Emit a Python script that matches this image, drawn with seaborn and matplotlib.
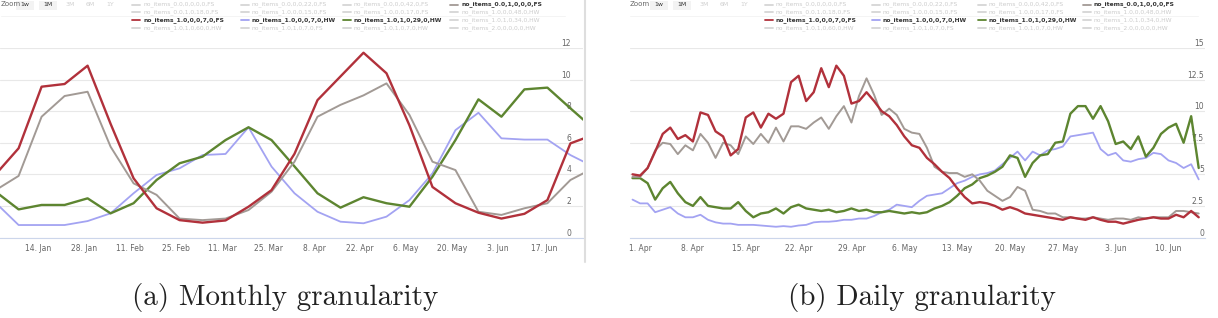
import pandas as pd
import matplotlib
matplotlib.use('Agg')
import matplotlib.pyplot as plt
from matplotlib.lines import Line2D
from matplotlib.patches import Rectangle
import seaborn as sns

# series shown in both panels
red_name = 'no_items_1.0,0,0,7,0,FS'
blue_name = 'no_items_1.0,0,0,7,0,HW'
green_name = 'no_items_1.0,1,0,29,0,HW'
gray_name = 'no_items_0.0,1,0,0,0,FS'

# legend grid (4 rows x 4 cols), hidden series shown faded
legend_labels = [
    ['no_items_0.0,0,0,0,0,FS', 'no_items_0.0,0,0,22,0,FS', 'no_items_0.0,0,0,42,0,FS', gray_name],
    ['no_items_0.0,1,0,18,0,FS', 'no_items_1.0,0,0,15,0,FS', 'no_items_1.0,0,0,17,0,FS', 'no_items_1.0,0,0,48,0,HW'],
    [red_name, blue_name, green_name, 'no_items_1.0,1,0,34,0,HW'],
    ['no_items_1.0,1,0,60,0,HW', 'no_items_1.0,1,0,7,0,FS', 'no_items_1.0,1,0,7,0,HW', 'no_items_2.0,0,0,0,0,HW'],
]
range_buttons = ['1w', '1M', '3M', '6M', '1Y']

# (a) monthly granularity, sampled weekly
monthly_dates = pd.date_range('2018-01-01', '2018-07-02', freq='7D')
monthly_red = [4.0, 5.65, 9.55, 9.72, 10.88, 7.2, 3.75, 1.85, 1.1, 0.94, 1.08, 1.95, 3.0,
               5.3, 8.7, 10.2, 11.7, 10.4, 7.1, 3.2, 2.17, 1.57, 1.2, 1.5, 2.37, 5.96, 6.5]
monthly_gray = [3.0, 3.9, 7.65, 8.96, 9.23, 5.75, 3.43, 2.7, 1.2, 1.1, 1.2, 1.74, 2.9,
                4.8, 7.65, 8.4, 9.0, 9.76, 7.76, 4.8, 4.27, 1.63, 1.43, 1.85, 2.17, 3.64, 4.4]
monthly_green = [2.9, 1.78, 2.06, 2.06, 2.48, 1.53, 2.17, 3.64, 4.7, 5.12, 6.17, 6.98, 6.17,
                 4.5, 2.8, 1.89, 2.55, 2.17, 1.95, 3.85, 6.17, 8.75, 7.65, 9.38, 9.49, 8.18, 6.9]
monthly_blue = [2.2, 0.79, 0.79, 0.79, 1.04, 1.53, 2.8, 3.96, 4.38, 5.22, 5.29, 6.98, 4.49,
                2.8, 1.63, 1.0, 0.9, 1.32, 2.37, 4.06, 6.8, 7.9, 6.28, 6.2, 6.2, 5.22, 4.49]
monthly_ticks = pd.date_range('2018-01-14', '2018-06-17', freq='14D')
monthly_yticks = [0, 2, 4, 6, 8, 10, 12]

# (b) daily granularity
daily_dates = pd.date_range('2018-03-31', '2018-06-14', freq='D')
daily_red = [5.0, 4.9, 5.5, 6.8, 8.2, 8.7, 7.8, 8.1, 7.6, 9.9,
             9.7, 8.4, 8.0, 6.5, 7.0, 9.5, 9.9, 8.7, 9.8, 9.4,
             9.8, 12.3, 12.8, 10.8, 11.5, 13.4, 11.9, 13.6, 12.8, 10.6,
             10.8, 11.5, 10.8, 10.0, 9.6, 8.9, 8.0, 7.3, 7.1, 6.3,
             5.8, 5.2, 4.7, 3.9, 3.2, 2.7, 2.8, 2.7, 2.5, 2.2,
             2.4, 2.2, 1.9, 1.8, 1.7, 1.6, 1.5, 1.4, 1.6, 1.5,
             1.4, 1.6, 1.4, 1.25, 1.25, 1.1, 1.25, 1.4, 1.5, 1.6,
             1.5, 1.5, 1.8, 1.6, 2.1, 1.6]
daily_gray = [4.8, 4.8, 5.5, 6.9, 7.5, 7.4, 6.6, 7.3, 6.9, 8.2,
              7.5, 6.3, 7.5, 7.3, 6.6, 8.0, 7.4, 8.2, 7.5, 8.7,
              7.6, 8.8, 8.8, 8.6, 9.1, 9.5, 8.6, 9.6, 10.4, 9.1,
              11.2, 12.6, 11.3, 9.7, 10.2, 9.7, 8.6, 8.3, 8.2, 7.1,
              5.6, 5.2, 5.1, 5.1, 4.8, 5.0, 4.5, 3.7, 3.3, 2.9,
              3.2, 4.0, 3.7, 2.2, 2.1, 1.9, 1.9, 1.6, 1.6, 1.5,
              1.5, 1.6, 1.5, 1.4, 1.5, 1.5, 1.4, 1.6, 1.5, 1.6,
              1.6, 1.6, 2.1, 2.1, 2.0, 1.9]
daily_green = [4.7, 4.7, 4.3, 3.0, 3.9, 4.4, 3.5, 2.8, 2.5, 3.2,
               2.5, 2.4, 2.3, 2.3, 2.8, 2.1, 1.6, 1.9, 2.0, 2.3,
               1.9, 2.4, 2.6, 2.3, 2.2, 2.1, 2.2, 2.0, 2.1, 2.3,
               2.1, 2.2, 2.0, 2.0, 2.1, 2.0, 1.9, 2.0, 1.9, 2.0,
               2.3, 2.5, 2.8, 3.3, 3.9, 4.2, 4.7, 4.9, 5.2, 5.6,
               6.5, 6.3, 4.8, 5.9, 6.5, 6.6, 7.5, 7.6, 9.8, 10.4,
               10.4, 9.4, 10.4, 9.2, 7.4, 7.6, 7.0, 8.0, 6.4, 7.1,
               8.2, 8.7, 9.0, 7.5, 9.6, 5.5]
daily_blue = [3.0, 2.7, 2.7, 2.0, 2.2, 2.4, 1.9, 1.6, 1.6, 1.8,
              1.4, 1.2, 1.1, 1.1, 1.0, 1.0, 1.0, 0.95, 0.9, 0.85,
              0.9, 0.85, 0.95, 1.0, 1.2, 1.25, 1.25, 1.3, 1.4, 1.4,
              1.5, 1.5, 1.7, 2.0, 2.2, 2.6, 2.5, 2.4, 2.9, 3.3,
              3.4, 3.5, 3.9, 4.3, 4.5, 4.8, 5.0, 5.1, 5.3, 5.8,
              6.3, 6.8, 6.1, 6.8, 6.5, 6.9, 7.0, 7.2, 8.0, 8.1,
              8.2, 8.3, 7.0, 6.5, 6.7, 6.1, 6.0, 6.2, 6.3, 6.7,
              6.6, 6.1, 5.9, 5.5, 5.8, 4.6]
daily_ticks = pd.date_range('2018-04-01', '2018-06-10', freq='7D')
daily_yticks = [0, 2.5, 5, 7.5, 10, 12.5, 15]
daily_yticklabels = ['0', '2.5', '5', '7.5', '10', '12.5', '15']

colors = {red_name: '#b1313b', gray_name: '#a29a95', green_name: '#5d8530', blue_name: '#a3a3f2'}
widths = {red_name: 1.7, gray_name: 1.4, green_name: 1.7, blue_name: 1.3}
order = [blue_name, green_name, gray_name, red_name]


def long_frame(dates, series):
    parts = [pd.DataFrame({'date': dates, 'value': vals, 'series': name}) for name, vals in series.items()]
    return pd.concat(parts, ignore_index=True)


monthly_df = long_frame(monthly_dates, {red_name: monthly_red, gray_name: monthly_gray,
                                        green_name: monthly_green, blue_name: monthly_blue})
daily_df = long_frame(daily_dates, {red_name: daily_red, gray_name: daily_gray,
                                    green_name: daily_green, blue_name: daily_blue})

sns.set_style('white')
plt.rcParams['font.family'] = ['DejaVu Sans']

W, H = 1218, 318
fig = plt.figure(figsize=(W / 100, H / 100), dpi=100)


def fx(px):
    return px / W


def fy(py):
    return 1 - py / H


def panel(x0, x1, df, ticks, yticks, ylabels, ymax, xlim, label_pad):
    ax = fig.add_axes([fx(x0), fy(237.5), fx(x1 - x0), (237.5 - 48) / H])
    for name in order:
        sub = df[df['series'] == name]
        sns.lineplot(data=sub, x='date', y='value', color=colors[name], linewidth=widths[name],
                     ax=ax, legend=False)
    ax.set_xlim(xlim)
    ax.set_ylim(0, ymax)
    ax.set_xlabel('')
    ax.set_ylabel('')
    ax.set_xticks(ticks)
    ax.set_xticklabels([f'{d.day}. {d.strftime("%b")}' for d in ticks])
    ax.set_yticks(yticks)
    ax.set_yticklabels(ylabels)
    ax.yaxis.tick_right()
    ax.tick_params(axis='y', length=0, pad=label_pad, labelsize=5.5, labelcolor='#666666')
    ax.tick_params(axis='x', length=3, width=0.6, color='#ccd6eb', pad=1.5, labelsize=5.5,
                   labelcolor='#666666')
    for lab in ax.get_yticklabels():
        lab.set_horizontalalignment('right')
        lab.set_verticalalignment('bottom')
    ax.grid(axis='y', color='#e8e8e8', linewidth=0.8)
    ax.grid(axis='x', visible=False)
    for side in ['top', 'left', 'right']:
        ax.spines[side].set_visible(False)
    ax.spines['bottom'].set_color('#ccd6eb')
    ax.spines['bottom'].set_linewidth(0.8)
    ax.set_facecolor('none')
    return ax


panel(0, 583, monthly_df, monthly_ticks, monthly_yticks, [str(v) for v in monthly_yticks], 12,
      (pd.Timestamp('2018-01-02 08:00'), pd.Timestamp('2018-06-28 20:00')), -8.6)
panel(630, 1205, daily_df, daily_ticks, daily_yticks, daily_yticklabels, 15,
      (pd.Timestamp('2018-03-30 16:00'), pd.Timestamp('2018-06-14 20:00')), -0.8)


def header(x_zoom, x_buttons, legend_x):
    fig.text(fx(x_zoom), fy(4.5), 'Zoom', fontsize=5, color='#666666', va='center')
    for i, (b, bx) in enumerate(zip(range_buttons, x_buttons)):
        if i < 2:
            fig.add_artist(Rectangle((fx(bx - 5), fy(10)), fx(18), 9 / H, transform=fig.transFigure,
                                     facecolor='#f3f3f3', edgecolor='none'))
        fig.text(fx(bx + 4), fy(4.5), b, fontsize=4.5, ha='center', va='center',
                 color='#333333' if i < 2 else '#d0d0d0')
    fig.add_artist(Line2D([fx(max(x_zoom, 0)), fx(legend_x[-1] + 115)], [fy(15.5), fy(15.5)],
                          transform=fig.transFigure, color='#f2f2f2', linewidth=0.6))
    rows_y = [4.5, 12.3, 20.2, 28.3]
    for r, row in enumerate(legend_labels):
        for c, lab in enumerate(row):
            active = lab in colors
            lx = legend_x[c]
            fig.add_artist(Line2D([fx(lx), fx(lx + 8)], [fy(rows_y[r]), fy(rows_y[r])],
                                  transform=fig.transFigure, linewidth=1.3,
                                  color=colors[lab] if active else '#d5d5d5'))
            fig.text(fx(lx + 11), fy(rows_y[r]), lab, fontsize=4.3, va='center',
                     color='#333333' if active else '#cccccc',
                     fontweight='bold' if active else 'normal')


header(0.5, [21, 44, 66, 86, 106], [132, 241, 343, 450])
header(630, [655, 678, 700, 720, 740], [765, 872, 978, 1083])

# separator between the two screenshots
fig.add_artist(Line2D([fx(585), fx(585)], [fy(0), fy(262)], transform=fig.transFigure,
                      color='#dedede', linewidth=1.5))

fig.text(fx(285), fy(298), '(a) Monthly granularity', family='cmr10', fontsize=21,
         ha='center', va='center', color='#222222')
fig.text(fx(922), fy(298), '(b) Daily granularity', family='cmr10', fontsize=21,
         ha='center', va='center', color='#222222')

fig.savefig('out.png', dpi=100)
